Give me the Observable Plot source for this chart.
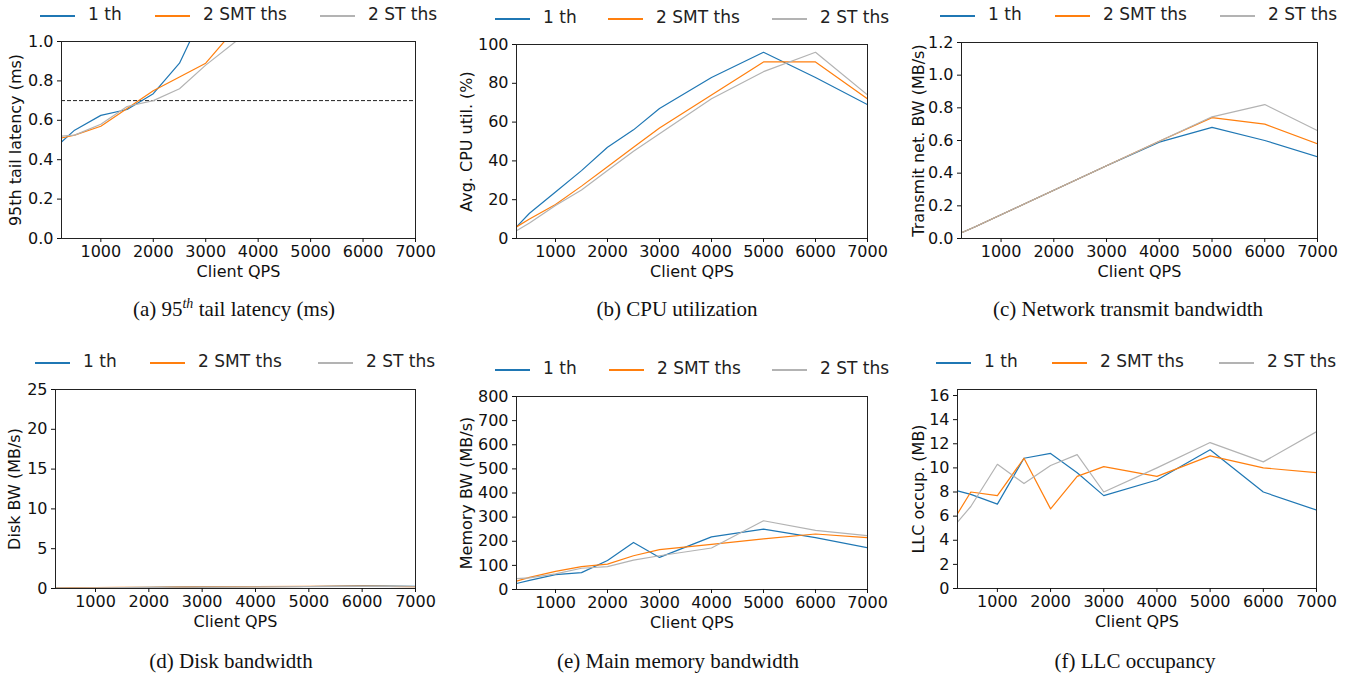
<!DOCTYPE html>
<html><head><meta charset="utf-8">
<script src="https://cdn.jsdelivr.net/npm/d3@7"></script>
<script src="https://cdn.jsdelivr.net/npm/@observablehq/plot@0.6"></script>
<style>
body{margin:0;background:#fff;width:1360px;height:675px;position:relative;overflow:hidden;font-family:"DejaVu Sans",sans-serif;}
.abs{position:absolute;}
.leg{position:absolute;font-size:17px;color:#222;white-space:nowrap;}
.legline{position:absolute;height:1.5px;}
.cap{position:absolute;font-family:"Liberation Serif","Times New Roman",serif;font-size:21px;color:#111;transform:translateX(-50%);white-space:nowrap;}
.cap sup{font-size:14px;font-style:italic;vertical-align:0;position:relative;top:-8px;}
.lab{font-size:16.5px;}
</style>
</head><body>
<script>
const qps = [250, 500, 1000, 1500, 2000, 2500, 3000, 4000, 5000, 6000, 7000];
const seriesNames = ["1 th", "2 SMT ths", "2 ST ths"];
const seriesColors = ["#1f77b4", "#ff7f0e", "#b3b3b3"];
const xTicks = [1000, 2000, 3000, 4000, 5000, 6000, 7000];

// (a) 95th tail latency (ms)
const latency1 = [0.49, 0.55, 0.625, 0.655, 0.735, 0.89, 1.17, 1.6, 2.0, 2.4, 2.8];
const latencySMT = [0.51, 0.525, 0.57, 0.66, 0.75, 0.82, 0.89, 1.2, 1.6, 2.0, 2.4];
const latencyST = [0.52, 0.525, 0.58, 0.67, 0.70, 0.76, 0.88, 1.09, 1.5, 1.9, 2.3];
const latencyTarget = 0.7;
// (b) CPU utilization
const cpu1 = [6, 13, 24, 35, 47, 56, 67, 83, 96, 83, 69];
const cpuSMT = [6, 10, 17.5, 27, 37, 47, 57, 74, 91, 91, 72];
const cpuST = [4, 8, 17, 25, 35, 45, 54, 72, 86, 96, 74];
// (c) Network transmit bandwidth
const net1 = [0.035, 0.07, 0.145, 0.22, 0.295, 0.37, 0.445, 0.59, 0.68, 0.60, 0.50];
const netSMT = [0.035, 0.07, 0.145, 0.22, 0.295, 0.37, 0.445, 0.595, 0.74, 0.70, 0.58];
const netST = [0.035, 0.07, 0.145, 0.22, 0.295, 0.37, 0.445, 0.595, 0.745, 0.82, 0.66];
// (d) Disk bandwidth
const disk1 = [0.05, 0.06, 0.08, 0.12, 0.15, 0.17, 0.2, 0.22, 0.25, 0.32, 0.28];
const diskSMT = [0.05, 0.07, 0.1, 0.14, 0.16, 0.18, 0.22, 0.24, 0.26, 0.3, 0.24];
const diskST = [0.04, 0.05, 0.08, 0.1, 0.12, 0.16, 0.19, 0.22, 0.24, 0.26, 0.22];
// (e) Main memory bandwidth
const mem1 = [25, 38, 62, 70, 120, 195, 133, 218, 250, 215, 173];
const memSMT = [35, 50, 75, 95, 105, 140, 165, 187, 210, 230, 215];
const memST = [45, 48, 65, 88, 95, 122, 140, 172, 285, 245, 223];
// (f) LLC occupancy
const llc1 = [8.1, 7.8, 7.0, 10.8, 11.2, 9.6, 7.7, 9.0, 11.5, 8.0, 6.5];
const llcSMT = [6.2, 8.0, 7.7, 10.8, 6.6, 9.3, 10.1, 9.3, 11.0, 10.0, 9.6];
const llcST = [5.5, 6.8, 10.3, 8.7, 10.2, 11.1, 8.0, 10.0, 12.1, 10.5, 13.0];

const panels = [
  {frame:[61,41,415,238], series:[latency1, latencySMT, latencyST], yDomain:[0,1], yTicks:[0,0.2,0.4,0.6,0.8,1.0], fmt:d3.format(".1f"), ylabel:"95th tail latency (ms)", yOff:52, hline:latencyTarget,
   legendY:15, legendX:[40,155,320], caption:"(a) 95<sup>th</sup> tail latency (ms)", capX:234, capY:297},
  {frame:[516,44,867,238], series:[cpu1, cpuSMT, cpuST], yDomain:[0,100], yTicks:[0,20,40,60,80,100], fmt:d=>String(d), ylabel:"Avg. CPU util. (%)", yOff:56,
   legendY:18, legendX:[495,608,772], caption:"(b) CPU utilization", capX:677, capY:297},
  {frame:[961,42,1317,238], series:[net1, netSMT, netST], yDomain:[0,1.2], yTicks:[0,0.2,0.4,0.6,0.8,1.0,1.2], fmt:d3.format(".1f"), ylabel:"Transmit net. BW (MB/s)", yOff:49,
   legendY:15, legendX:[940,1055,1220], caption:"(c) Network transmit bandwidth", capX:1128, capY:297},
  {frame:[55,389,415,588], series:[disk1, diskSMT, diskST], yDomain:[0,25], yTicks:[0,5,10,15,20,25], fmt:d=>String(d), ylabel:"Disk BW (MB/s)", yOff:47,
   legendY:362, legendX:[35,150,318], caption:"(d) Disk bandwidth", capX:231, capY:649},
  {frame:[516,396,867,589], series:[mem1, memSMT, memST], yDomain:[0,800], yTicks:[0,100,200,300,400,500,600,700,800], fmt:d=>String(d), ylabel:"Memory BW (MB/s)", yOff:56,
   legendY:369, legendX:[495,609,772], caption:"(e) Main memory bandwidth", capX:678, capY:649},
  {frame:[957,389,1316,588], series:[llc1, llcSMT, llcST], yDomain:[0,16.5], yTicks:[0,2,4,6,8,10,12,14,16], fmt:d=>String(d), ylabel:"LLC occup. (MB)", yOff:45,
   legendY:362, legendX:[936,1052,1219], caption:"(f) LLC occupancy", capX:1135, capY:649}
];

const ML = 70, MT = 10, MR = 30, MB = 50;
for (const p of panels) {
  const [x0,y0,x1,y1] = p.frame;
  const rows = [];
  p.series.forEach((vals, si) => vals.forEach((v, i) => rows.push({qps: qps[i], value: v, series: seriesNames[si]})));
  const marks = [];
  if (p.hline !== undefined) marks.push(Plot.ruleY([p.hline], {stroke:"#222", strokeWidth:1, strokeDasharray:"4,2"}));
  marks.push(Plot.line(rows, {x:"qps", y:"value", z:"series", stroke:"series", strokeWidth:1.2, clip:true}));
  marks.push(Plot.frame({stroke:"#222", strokeWidth:1}));
  marks.push(Plot.axisX({ticks:xTicks, tickFormat:d=>String(d), tickSize:4, tickPadding:3, label:null}));
  marks.push(Plot.axisX({ticks:[], tickSize:0, label:"Client QPS", labelAnchor:"center", labelArrow:"none", labelOffset:38, className:"lab"}));
  marks.push(Plot.axisY({ticks:p.yTicks, tickFormat:p.fmt, tickSize:4, tickPadding:4, label:null}));
  marks.push(Plot.axisY({ticks:[], tickSize:0, label:p.ylabel, labelAnchor:"center", labelArrow:"none", labelOffset:p.yOff, className:"lab"}));
  const chart = Plot.plot({
    width: (x1-x0)+ML+MR, height: (y1-y0)+MT+MB,
    marginLeft: ML, marginRight: MR, marginTop: MT, marginBottom: MB,
    style: {fontFamily:"DejaVu Sans", fontSize:"16px", color:"#111", background:"transparent", overflow:"visible"},
    x: {domain:[250,7000]},
    y: {domain:p.yDomain},
    color: {domain:seriesNames, range:seriesColors},
    marks
  });
  chart.classList.add("abs");
  chart.style.left = (x0-ML)+"px";
  chart.style.top = (y0-MT)+"px";
  chart.querySelectorAll(".lab text").forEach(t => t.setAttribute("font-size", "16.5"));
  document.body.appendChild(chart);
  seriesNames.forEach((name, i) => {
    const ln = document.createElement("div");
    ln.className = "legline";
    ln.style.left = p.legendX[i]+"px"; ln.style.top = p.legendY+"px"; ln.style.width = "35px";
    ln.style.background = seriesColors[i];
    document.body.appendChild(ln);
    const t = document.createElement("div");
    t.className = "leg";
    t.textContent = name;
    t.style.left = (p.legendX[i]+48)+"px"; t.style.top = (p.legendY-11)+"px";
    document.body.appendChild(t);
  });
  const c = document.createElement("div");
  c.className = "cap";
  c.innerHTML = p.caption;
  c.style.left = p.capX+"px"; c.style.top = p.capY+"px";
  document.body.appendChild(c);
}
</script>
</body></html>
